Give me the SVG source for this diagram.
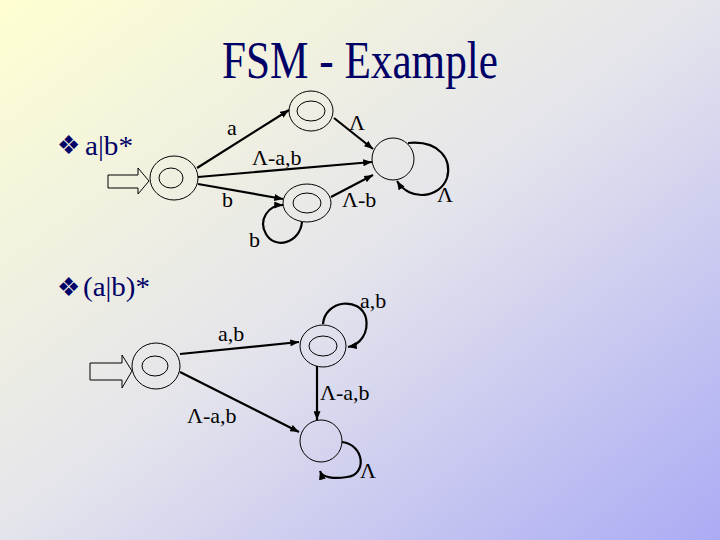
<svg xmlns="http://www.w3.org/2000/svg" width="720" height="540" viewBox="0 0 720 540">
<defs>
<linearGradient id="bg" x1="0" y1="0" x2="1" y2="1">
<stop offset="0" stop-color="#FFFFD2"/>
<stop offset="0.5" stop-color="#E4E4EC"/>
<stop offset="1" stop-color="#ABABF5"/>
</linearGradient>
<marker id="ah" viewBox="0 0 10 8" refX="10" refY="4" markerWidth="9" markerHeight="7" markerUnits="userSpaceOnUse" orient="auto">
<path d="M0,0 L10,4 L0,8 Z" fill="#000"/>
</marker>
<style>
.node{fill:none;stroke:#000;stroke-width:1}
.edge{fill:none;stroke:#000;stroke-width:2.2;marker-end:url(#ah)}
.lbl{font-family:"Liberation Serif","Times New Roman",serif;font-size:22px;fill:#000}
.head{font-family:"Liberation Serif","Times New Roman",serif;fill:#000066}
.bul{font-family:"DejaVu Sans",sans-serif;font-size:26px;fill:#000066}
.start{fill:none;stroke:#000;stroke-width:1}
</style>
</defs>
<rect x="0" y="0" width="720" height="540" fill="url(#bg)"/>
<text class="head" x="222" y="78" font-size="53" textLength="276" lengthAdjust="spacingAndGlyphs">FSM - Example</text>

<!-- top diagram -->
<text class="bul" x="57" y="154">❖</text>
<text class="head" x="85" y="155" font-size="27" textLength="48" lengthAdjust="spacingAndGlyphs">a|b*</text>
<g id="start1-arrow"><path class="start" d="M108,175 H138 V168 L149,181 L138,194 V188 H108 Z"/></g>
<g id="n1"><ellipse class="node" cx="174" cy="178" rx="24" ry="22"/><ellipse class="node" cx="171" cy="178" rx="12" ry="10"/></g>
<g id="n2"><ellipse class="node" cx="311" cy="111" rx="22" ry="20"/><ellipse class="node" cx="311" cy="111" rx="14" ry="10"/></g>
<g id="n3"><circle class="node" cx="393" cy="159" r="21"/></g>
<g id="n4"><ellipse class="node" cx="307" cy="203" rx="24" ry="19"/><ellipse class="node" cx="307" cy="203" rx="14" ry="10"/></g>

<g id="edges1">
<path class="edge" d="M197,168 L289,110"/>
<path class="edge" d="M198,177 L372,162"/>
<path class="edge" d="M198,184 L283,199"/>
<path class="edge" d="M334,118 L373,149"/>
<path class="edge" d="M331,197 L373,175"/>
<path class="edge" d="M408,143 C440,140 452,160 447,178 C440,198 410,202 397,181"/>
<path class="edge" d="M302,222 C300,243 275,250 266,234 C258,220 268,205 283,205"/>
</g>
<g id="labels1">
<text class="lbl" x="227" y="135">a</text>
<text class="lbl" x="349" y="130">Λ</text>
<text class="lbl" x="252" y="165">Λ-a,b</text>
<text class="lbl" x="222" y="207">b</text>
<text class="lbl" x="342" y="207">Λ-b</text>
<text class="lbl" x="437" y="202">Λ</text>
<text class="lbl" x="249" y="247">b</text>
</g>

<!-- bottom diagram -->
<text class="bul" x="57" y="296">❖</text>
<text class="head" x="83" y="296" font-size="27" textLength="67" lengthAdjust="spacingAndGlyphs">(a|b)*</text>
<g id="start2-arrow"><path class="start" d="M90,363 H122 V355 L132,371 L122,388 V380 H90 Z"/></g>
<g id="m1"><ellipse class="node" cx="156" cy="366" rx="24" ry="23"/><ellipse class="node" cx="155" cy="366" rx="13" ry="10"/></g>
<g id="m2"><ellipse class="node" cx="323" cy="346" rx="23" ry="21"/><ellipse class="node" cx="323" cy="346" rx="14" ry="10"/></g>
<g id="m3"><circle class="node" cx="321" cy="441" r="21"/></g>
<g id="edges2">
<path class="edge" d="M180,354 L299,342"/>
<path class="edge" d="M180,372 L299,432"/>
<path class="edge" d="M317,366 L317,420"/>
<path class="edge" d="M323,324 C325,300 360,296 366,318 C369,333 360,345 348,347"/>
<path class="edge" d="M342,442 C365,445 367,475 347,477 C335,479 322,478 320,471"/>
</g>
<g id="labels2">
<text class="lbl" x="360" y="308">a,b</text>
<text class="lbl" x="218" y="341">a,b</text>
<text class="lbl" x="320" y="400">Λ-a,b</text>
<text class="lbl" x="187" y="423">Λ-a,b</text>
<text class="lbl" x="360" y="478">Λ</text>
</g>
</svg>
